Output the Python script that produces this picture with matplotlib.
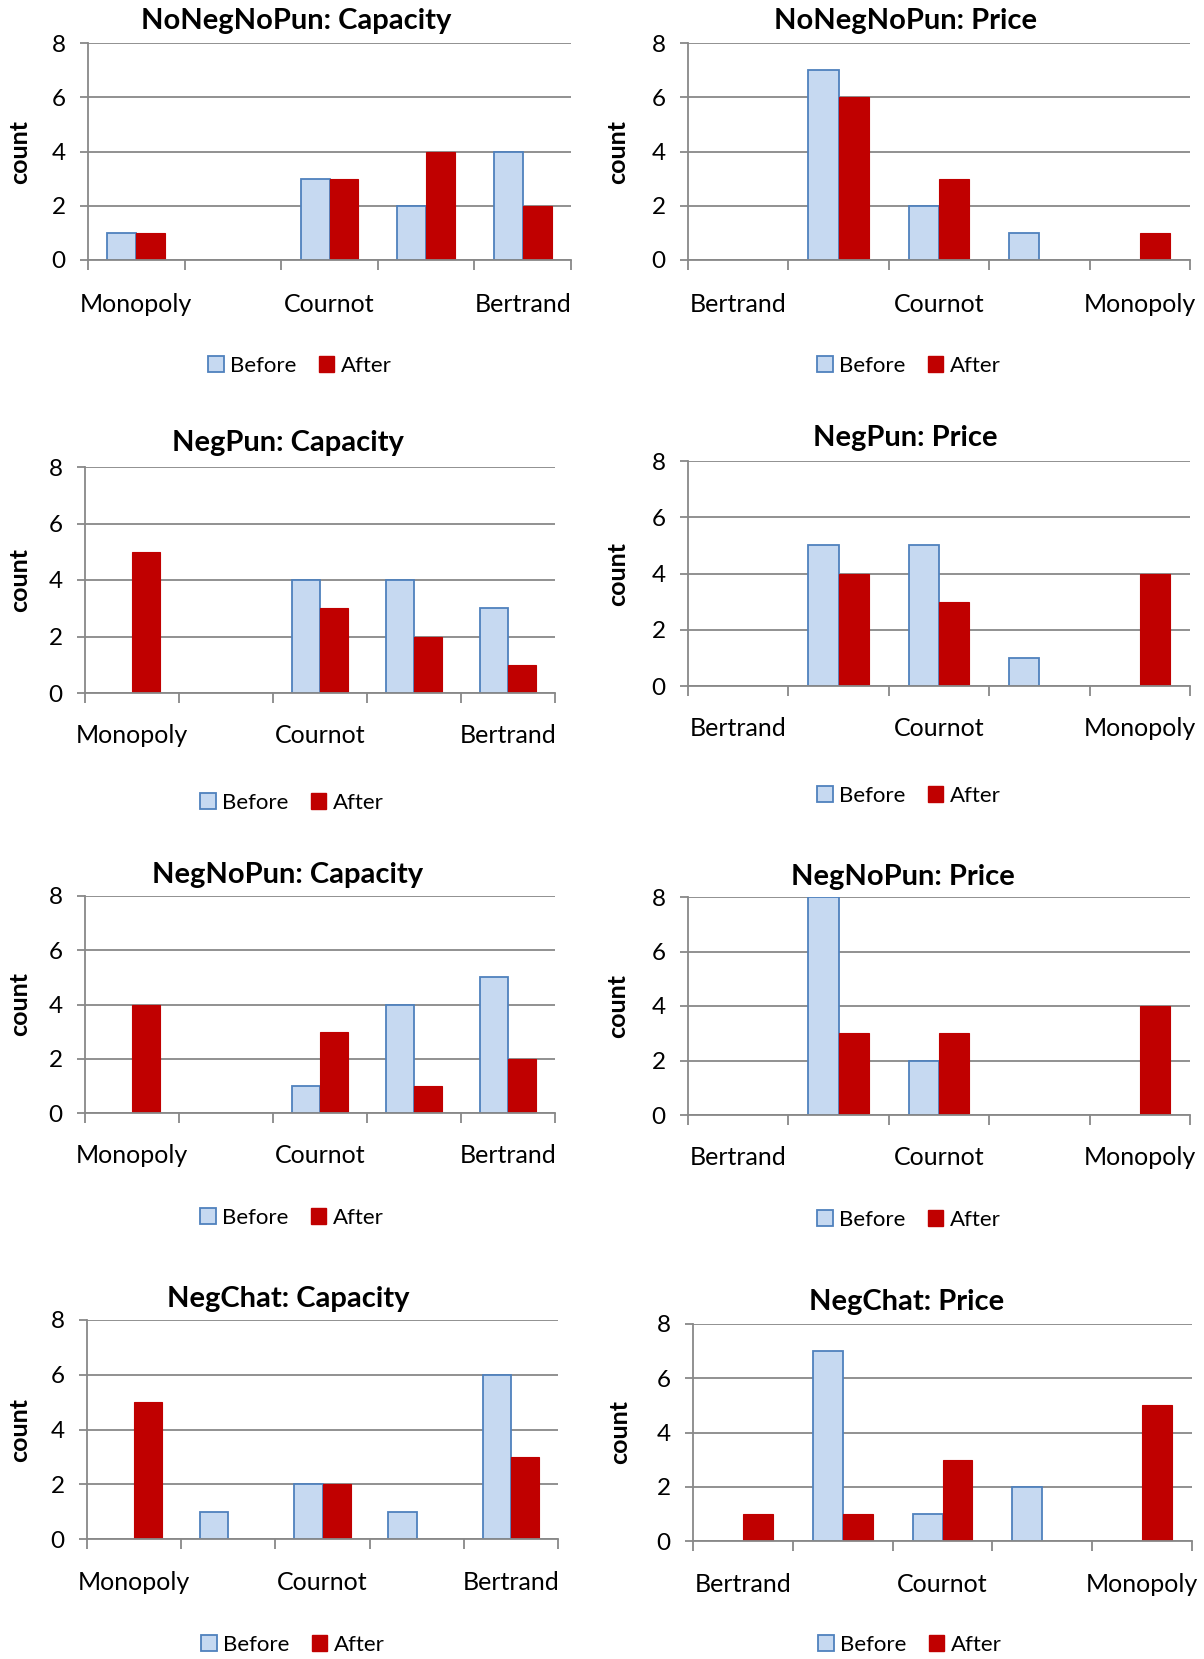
import matplotlib
matplotlib.use("Agg")
import matplotlib.pyplot as plt
from matplotlib.patches import Patch
import numpy as np

W, H = 1204, 1659
DPI = 100

cap_labels = ["Monopoly", "", "Cournot", "", "Bertrand"]
price_labels = ["Bertrand", "", "Cournot", "", "Monopoly"]

titles = ["NoNegNoPun: Capacity", "NoNegNoPun: Price",
          "NegPun: Capacity", "NegPun: Price",
          "NegNoPun: Capacity", "NegNoPun: Price",
          "NegChat: Capacity", "NegChat: Price"]

nonegnopun_cap_before = [1, 0, 3, 2, 4]
nonegnopun_cap_after = [1, 0, 3, 4, 2]
nonegnopun_price_before = [0, 7, 2, 1, 0]
nonegnopun_price_after = [0, 6, 3, 0, 1]
negpun_cap_before = [0, 0, 4, 4, 3]
negpun_cap_after = [5, 0, 3, 2, 1]
negpun_price_before = [0, 5, 5, 1, 0]
negpun_price_after = [0, 4, 3, 0, 4]
negnopun_cap_before = [0, 0, 1, 4, 5]
negnopun_cap_after = [4, 0, 3, 1, 2]
negnopun_price_before = [0, 8, 2, 0, 0]
negnopun_price_after = [0, 3, 3, 0, 4]
negchat_cap_before = [0, 1, 2, 1, 6]
negchat_cap_after = [5, 0, 2, 0, 3]
negchat_price_before = [0, 7, 1, 2, 0]
negchat_price_after = [1, 1, 3, 0, 5]

befores = [nonegnopun_cap_before, nonegnopun_price_before, negpun_cap_before, negpun_price_before,
           negnopun_cap_before, negnopun_price_before, negchat_cap_before, negchat_price_before]
afters = [nonegnopun_cap_after, nonegnopun_price_after, negpun_cap_after, negpun_price_after,
          negnopun_cap_after, negnopun_price_after, negchat_cap_after, negchat_price_after]
xlabels = [cap_labels, price_labels] * 4

# panel layout in pixels: (x0, x1, ytop, ybottom, title_x, title_y, label_y, legend_x, legend_y, ylabel_x)
layout = [
    (88, 571, 43, 260, 296, 21, 304, 300, 366, 19),
    (688, 1190, 43, 260, 905, 21, 304, 909, 366, 617),
    (85, 555, 467, 693, 288, 443, 735, 292, 803, 19),
    (688, 1190, 461, 686, 905, 438, 728, 909, 796, 617),
    (85, 555, 896, 1113, 288, 875, 1155, 292, 1218, 19),
    (688, 1190, 897, 1115, 903, 877, 1157, 909, 1220, 617),
    (87, 558, 1320, 1539, 288, 1299, 1582, 293, 1645, 19),
    (693, 1192, 1324, 1541, 907, 1302, 1584, 910, 1645, 619),
]

BEFORE_FC = "#C6D9F1"
BEFORE_EC = "#4F81BD"
AFTER_FC = "#C00000"
GRID = "#888888"
FONT = "Lato"

fig = plt.figure(figsize=(W / DPI, H / DPI), dpi=DPI)
fig.patch.set_facecolor("white")

for i in range(8):
    x0, x1, yt, yb, tx, ty, ly, lx, lgy, ylx = layout[i]
    ax = fig.add_axes([x0 / W, 1 - yb / H, (x1 - x0) / W, (yb - yt) / H])
    cats = np.arange(1, 6)
    bw = 0.30
    b_edges = [BEFORE_EC if v > 0 else "none" for v in befores[i]]
    a_edges = [AFTER_FC if v > 0 else "none" for v in afters[i]]
    ax.bar(cats - bw / 2, befores[i], width=bw, color=BEFORE_FC, edgecolor=b_edges,
           linewidth=1.3, zorder=3)
    ax.bar(cats + bw / 2, afters[i], width=bw, color=AFTER_FC, edgecolor=a_edges,
           linewidth=0.8, zorder=3)
    ax.set_xlim(0.5, 5.5)
    ax.set_ylim(0, 8)
    ax.set_yticks([0, 2, 4, 6, 8])
    ax.yaxis.grid(True, color=GRID, linewidth=1.3, zorder=0)
    ax.set_axisbelow(True)
    for s in ["top", "right"]:
        ax.spines[s].set_visible(False)
    for s in ["left", "bottom"]:
        ax.spines[s].set_color(GRID)
        ax.spines[s].set_linewidth(1.3)
    ax.spines["bottom"].set_zorder(4)
    # category boundary ticks
    ax.set_xticks(np.arange(0.5, 6.0, 1.0))
    ax.set_xticklabels([])
    ax.tick_params(axis="x", which="major", direction="out", length=7, width=1.3, color=GRID)
    ax.set_xticks(cats, minor=True)
    ax.set_xticklabels(xlabels[i], minor=True, fontsize=18, family=FONT)
    ax.tick_params(axis="x", which="minor", length=0, pad=(ly - yb) - 20)
    ax.tick_params(axis="y", direction="out", length=6, width=1.3, color=GRID,
                   labelsize=17.5, pad=10)
    for lab in ax.get_yticklabels():
        lab.set_family(FONT)
    ax.set_ylabel("count", fontsize=18, fontweight="bold", family=FONT)
    ax.yaxis.set_label_coords((ylx + 12 - x0) / (x1 - x0), 0.5)
    fig.text(tx / W, 1 - ty / H, titles[i], ha="center", va="center",
             fontsize=21, fontweight="bold", family=FONT)
    handles = [Patch(facecolor=BEFORE_FC, edgecolor=BEFORE_EC, linewidth=1.3, label="Before"),
               Patch(facecolor=AFTER_FC, edgecolor=AFTER_FC, label="After")]
    fig.legend(handles=handles, loc="center", bbox_to_anchor=(lx / W, 1 - lgy / H), ncol=2,
               frameon=False, prop={"family": FONT, "size": 16}, handlelength=0.7,
               handleheight=0.7, handletextpad=0.3, columnspacing=1.0)

fig.savefig("out.png", dpi=DPI, facecolor="white")
